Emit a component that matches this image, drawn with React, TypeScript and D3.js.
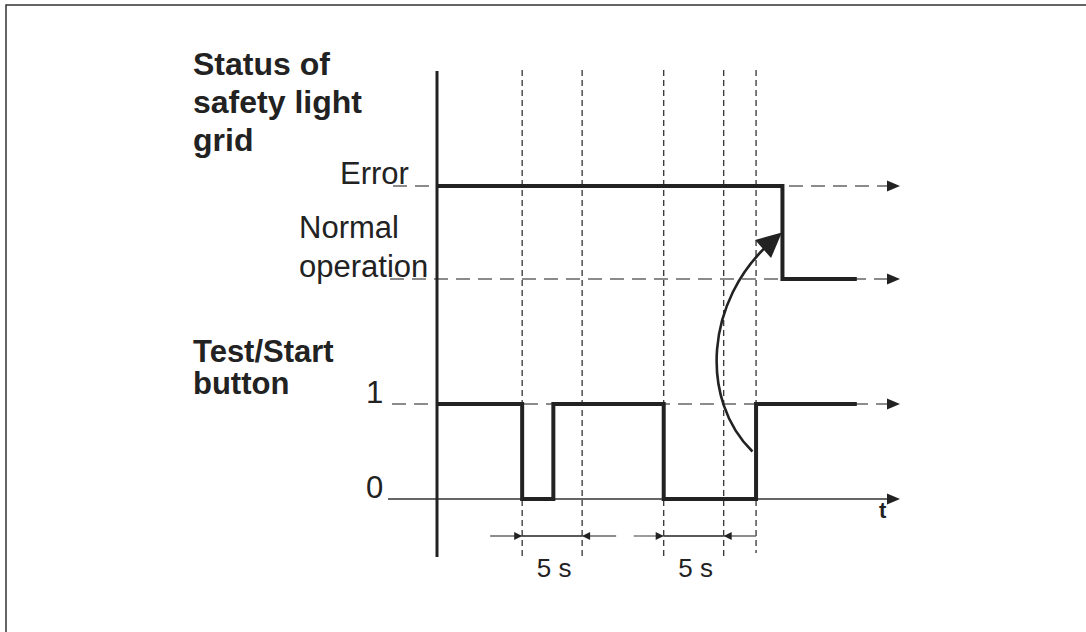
import { useEffect, useRef } from "react";
import * as d3 from "d3";

// time in seconds, levels per signal
const statusLevels = ["Error", "Normal operation"];
const buttonLevels = [0, 1];
const buttonSteps: [number, number][] = [
  [0, 1],
  [7.1, 0],
  [9.7, 1],
  [18.9, 0],
  [26.6, 1],
  [35, 1],
];
const statusSteps: [number, string][] = [
  [0, "Error"],
  [28.8, "Normal operation"],
  [35, "Normal operation"],
];
const markerTimes = [7.1, 12.1, 18.9, 23.9, 26.6];
const intervals = [
  { start: 7.1, end: 12.1, label: "5 s" },
  { start: 18.9, end: 23.9, label: "5 s" },
];
const tMax = 38.6;

const font = "'Liberation Sans', Arial, Helvetica, sans-serif";

export default function App() {
  const svgRef = useRef<SVGSVGElement>(null);

  useEffect(() => {
    if (!svgRef.current) return;
    const svg = d3.select(svgRef.current);
    svg.selectAll("*").remove();

    const x = d3.scaleLinear().domain([0, tMax]).range([437, 900]);
    const yStatus = d3
      .scaleOrdinal<string, number>()
      .domain(statusLevels)
      .range([186, 279]);
    const yButton = d3.scaleLinear().domain(buttonLevels).range([499, 404]);

    // frame
    svg
      .append("rect")
      .attr("x", 6)
      .attr("y", 5)
      .attr("width", 1200)
      .attr("height", 800)
      .attr("fill", "white")
      .attr("stroke", "#333")
      .attr("stroke-width", 1.5);

    // arrow head helper
    const head = (tipX: number, tipY: number, ang: number, len: number, half: number) => {
      const bx = tipX - len * Math.cos(ang);
      const by = tipY - len * Math.sin(ang);
      const px = -Math.sin(ang) * half;
      const py = Math.cos(ang) * half;
      return `M${tipX},${tipY}L${bx + px},${by + py}L${bx - px},${by - py}Z`;
    };

    // vertical dashed markers
    svg
      .append("g")
      .selectAll("line")
      .data(markerTimes)
      .enter()
      .append("line")
      .attr("x1", (d) => x(d))
      .attr("x2", (d) => x(d))
      .attr("y1", 70)
      .attr("y2", (d, i) => (i === markerTimes.length - 1 ? 553 : 557))
      .attr("stroke", "#333")
      .attr("stroke-width", 1.3)
      .attr("stroke-dasharray", "6 4");

    // horizontal reference lines
    const refs = [
      { y: yStatus("Error"), x0: 393, dashed: true },
      { y: yStatus("Normal operation"), x0: 390, dashed: true },
      { y: yButton(1), x0: 392, dashed: true },
      { y: yButton(0), x0: 388, dashed: false },
    ];
    refs.forEach((r) => {
      svg
        .append("line")
        .attr("x1", r.x0)
        .attr("x2", x(tMax) - 8)
        .attr("y1", r.y)
        .attr("y2", r.y)
        .attr("stroke", r.dashed ? "#666" : "#333")
        .attr("stroke-width", 1.6)
        .attr("stroke-dasharray", r.dashed ? "14 8" : null);
      svg
        .append("path")
        .attr("d", head(x(tMax), r.y, 0, 13, 5.5))
        .attr("fill", "#222");
    });

    // vertical axis
    svg
      .append("line")
      .attr("x1", x(0))
      .attr("x2", x(0))
      .attr("y1", 71)
      .attr("y2", 557)
      .attr("stroke", "#222")
      .attr("stroke-width", 3);

    // signals
    const statusLine = d3
      .line<[number, string]>()
      .x((d) => x(d[0]))
      .y((d) => yStatus(d[1]))
      .curve(d3.curveStepAfter);
    svg
      .append("path")
      .attr("d", statusLine(statusSteps))
      .attr("fill", "none")
      .attr("stroke", "#222")
      .attr("stroke-width", 4);

    const buttonLine = d3
      .line<[number, number]>()
      .x((d) => x(d[0]))
      .y((d) => yButton(d[1]))
      .curve(d3.curveStepAfter);
    svg
      .append("path")
      .attr("d", buttonLine(buttonSteps))
      .attr("fill", "none")
      .attr("stroke", "#222")
      .attr("stroke-width", 4);

    // curved arrow from button release to status change
    const p0: [number, number] = [x(26.3), yButton(0.5)];
    const p3: [number, number] = [x(28.75), (yStatus("Error") + yStatus("Normal operation")) / 2];
    const c1: [number, number] = [p0[0] - 53, p0[1] - 52];
    const c2: [number, number] = [p3[0] - 77, p3[1] + 68];
    const ang = Math.atan2(p3[1] - c2[1], p3[0] - c2[0]);
    const cut = 14;
    const end: [number, number] = [p3[0] - cut * Math.cos(ang), p3[1] - cut * Math.sin(ang)];
    const curve = d3.path();
    curve.moveTo(p0[0], p0[1]);
    curve.bezierCurveTo(c1[0], c1[1], c2[0], c2[1], end[0], end[1]);
    svg
      .append("path")
      .attr("d", curve.toString())
      .attr("fill", "none")
      .attr("stroke", "#222")
      .attr("stroke-width", 2.6);
    svg.append("path").attr("d", head(p3[0], p3[1], ang, 25, 12)).attr("fill", "#222");

    // interval dimensions
    const dimY = 536;
    intervals.forEach((iv, i) => {
      const a = x(iv.start);
      const b = x(iv.end);
      const outerL = i === 0 ? a - 32 : a - 30;
      const outerR = i === 0 ? b + 34 : x(markerTimes[4]);
      svg
        .append("line")
        .attr("x1", outerL)
        .attr("x2", a)
        .attr("y1", dimY)
        .attr("y2", dimY)
        .attr("stroke", "#666")
        .attr("stroke-width", 1.3);
      svg
        .append("line")
        .attr("x1", a)
        .attr("x2", b)
        .attr("y1", dimY)
        .attr("y2", dimY)
        .attr("stroke", "#222")
        .attr("stroke-width", 1.5);
      svg
        .append("line")
        .attr("x1", b)
        .attr("x2", outerR)
        .attr("y1", dimY)
        .attr("y2", dimY)
        .attr("stroke", "#666")
        .attr("stroke-width", 1.3);
      svg.append("path").attr("d", head(a, dimY, 0, 8, 4)).attr("fill", "#222");
      svg.append("path").attr("d", head(b, dimY, Math.PI, 8, 4)).attr("fill", "#222");
      svg
        .append("text")
        .attr("x", (a + b) / 2 + 2)
        .attr("y", 577)
        .attr("text-anchor", "middle")
        .attr("font-family", font)
        .attr("font-size", 26)
        .attr("fill", "#222")
        .text(iv.label);
    });

    // texts
    const texts = [
      { t: "Status of", x: 193, y: 75, bold: true, size: 32 },
      { t: "safety light", x: 193, y: 113, bold: true, size: 32 },
      { t: "grid", x: 193, y: 151, bold: true, size: 32 },
      { t: "Test/Start", x: 193, y: 362, bold: true, size: 31 },
      { t: "button", x: 193, y: 394, bold: true, size: 31 },
      { t: "Error", x: 340, y: 184, bold: false, size: 31 },
      { t: "Normal", x: 299, y: 238, bold: false, size: 31 },
      { t: "operation", x: 299, y: 277, bold: false, size: 31 },
      { t: String(buttonLevels[1]), x: 366, y: 403, bold: false, size: 31 },
      { t: String(buttonLevels[0]), x: 366, y: 498, bold: false, size: 31 },
      { t: "t", x: 879, y: 518, bold: true, size: 22 },
    ];
    svg
      .append("g")
      .selectAll("text")
      .data(texts)
      .enter()
      .append("text")
      .attr("x", (d) => d.x)
      .attr("y", (d) => d.y)
      .attr("font-family", font)
      .attr("font-size", (d) => d.size)
      .attr("font-weight", (d) => (d.bold ? "bold" : "normal"))
      .attr("fill", "#222")
      .text((d) => d.t);
  }, []);

  return (
    <svg
      ref={svgRef}
      width={1086}
      height={632}
      style={{ position: "absolute", left: 0, top: 0, display: "block", background: "white" }}
    />
  );
}
